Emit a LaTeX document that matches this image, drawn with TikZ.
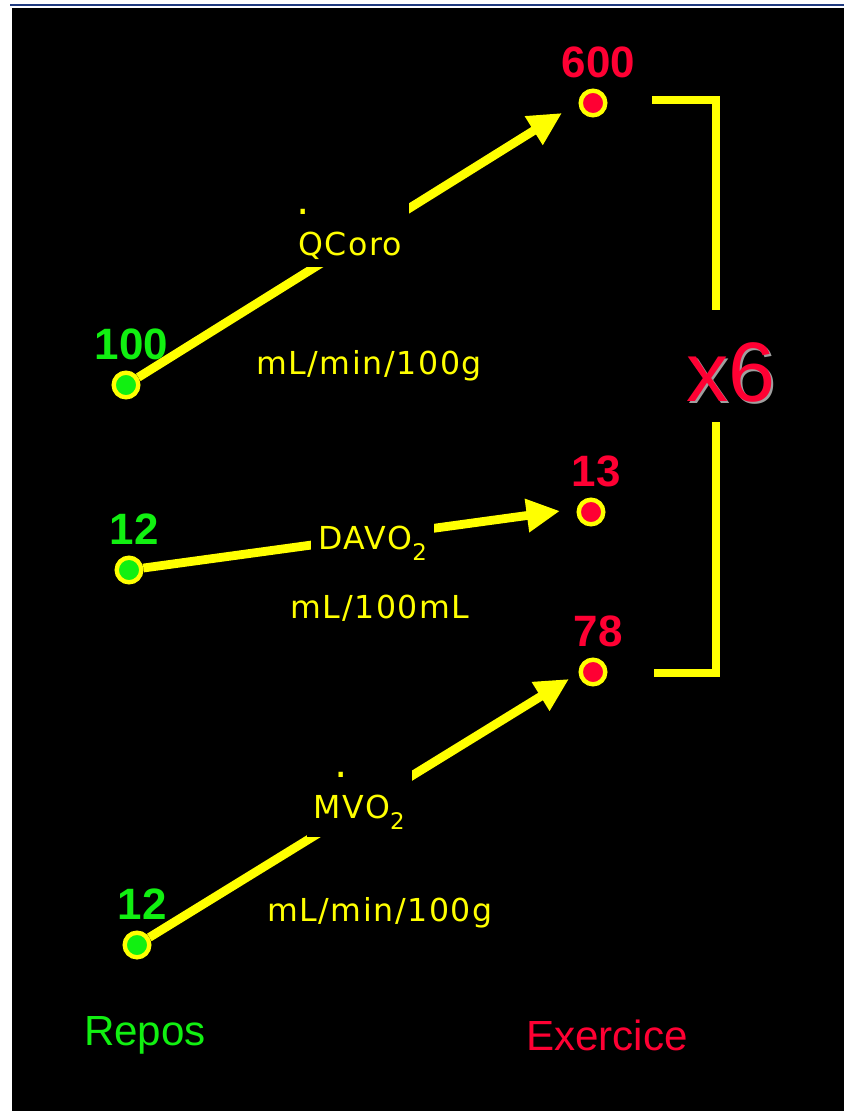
\documentclass[tikz,border=0pt]{standalone}
\usepackage{fontspec}
\setmainfont{Liberation Sans}
\newfontfamily\unitfont[LetterSpace=5]{DejaVu Sans}
\usetikzlibrary{arrows.meta, positioning}
\definecolor{hiyellow}{HTML}{FFFF00}
\definecolor{restgreen}{HTML}{11F011}
\definecolor{effortred}{HTML}{FF0033}
\definecolor{topblue}{HTML}{1F3A80}
\tikzset{
    dot/.style={circle, draw=hiyellow, line width=2.5pt,
        minimum size=14pt, inner sep=0pt},
    rest/.style={dot, fill=restgreen},
    effort/.style={dot, fill=effortred},
    val/.style={font=\fontsize{25pt}{25pt}\selectfont\bfseries,
        inner sep=0pt, xshift=3pt},
    restval/.style={val, text=restgreen},
    effval/.style={val, text=effortred},
    arr/.style={-{Triangle[length=19pt, width=18pt]}, line width=5pt,
        color=hiyellow},
    lbl/.style={font=\unitfont\fontsize{18pt}{20pt}\selectfont,
        text=hiyellow, fill=black, inner sep=4pt},
    unit/.style={font=\unitfont\fontsize{18pt}{20pt}\selectfont,
        text=hiyellow},
    brk/.style={line width=5pt, color=hiyellow},
    ttl/.style={font=\fontsize{24pt}{24pt}\selectfont},
    fact/.style={font=\fontsize{48pt}{48pt}\selectfont},
}
\newcommand{\topdot}[2]{\makebox[0pt][l]{\kern#1\raisebox{#2}{\fontsize{24pt}{24pt}\selectfont .}}}
\newcommand{\subtwo}{\raisebox{-0.35em}{\fontsize{13pt}{13pt}\selectfont 2}}

\begin{document}
\begin{tikzpicture}[x=0.02cm, y=-0.02cm]

% ================================================================
%  FRAME
% ================================================================

\fill[white] (0,0) rectangle (844,1111);
\useasboundingbox (0,0) rectangle (844,1111);
\draw[topblue, line width=1.2pt] (10,5) -- (844,5);
\fill[black] (12,8) rectangle (844,1111);

% ================================================================
%  REST / EXERCISE POINTS
% ================================================================

\node[rest]   (rq) at (126,385) {};
\node[rest]   (rd) at (129,570) {};
\node[rest]   (rm) at (137,945) {};
\node[effort] (eq) at (593,103) {};
\node[effort] (ed) at (591,512) {};
\node[effort] (em) at (593,672) {};

\node[restval, above=6pt of rq] (vrq) {100};
\node[restval, above=6pt of rd] (vrd) {12};
\node[restval, above=6pt of rm] (vrm) {12};
\node[effval, above=6pt of eq]  (veq) {600};
\node[effval, above=6pt of ed]  (ved) {13};
\node[effval, above=6pt of em]  (vem) {78};

% ================================================================
%  ARROWS
% ================================================================

\coordinate (tipq) at (562,113);
\coordinate (tipd) at (560,511);
\coordinate (tipm) at (569,679);

\draw[arr] (rq) --
    node[lbl, pos=0.5, yshift=6pt] (lq) {\topdot{-0.05em}{1.3em}QCoro}
    (tipq);
\draw[arr] (rd) --
    node[lbl, pos=0.55, yshift=-4pt] (ld) {DAVO\subtwo}
    (tipd);
\draw[arr] (rm) --
    node[lbl, pos=0.5, yshift=4pt] (lm) {\topdot{0.65em}{1.3em}MVO\subtwo}
    (tipm);

\node[unit] (uq) at (369,366) {mL/min/100g};
\node[unit] (ud) at (380,608) {mL/100mL};
\node[unit] (um) at (380,913) {mL/min/100g};

% ================================================================
%  FACTOR BRACKET
% ================================================================

\coordinate (bka) at (652,100);
\coordinate (bkb) at (716,310);
\coordinate (bkc) at (716,422);
\coordinate (bkd) at (654,673);
\draw[brk] (bka) -| (bkb);
\draw[brk] (bkc) |- (bkd);

\node[fact, text=gray!75] (facsh) at (733,374) {x6};
\node[fact, text=effortred] (fac) at (731,372) {x6};

% ================================================================
%  TITLES
% ================================================================

\node[ttl, text=restgreen] (repos) at (145,1035) {Repos};
\node[ttl, text=effortred] (exo)   at (607,1035) {Exercice};

\end{tikzpicture}
\end{document}
